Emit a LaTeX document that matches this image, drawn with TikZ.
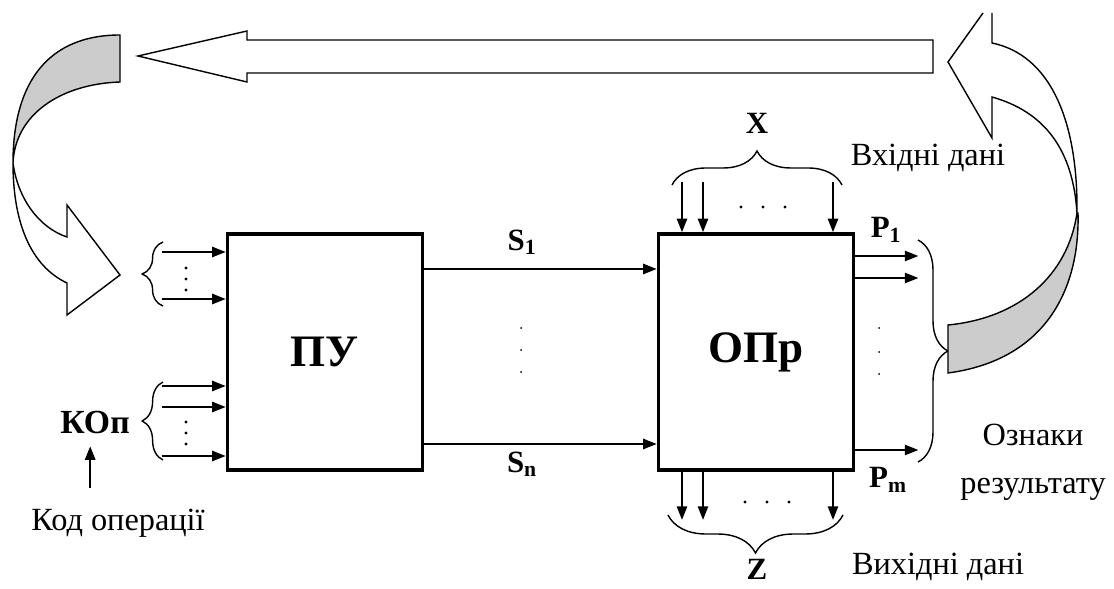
\documentclass[tikz,border=0pt]{standalone}
\usepackage{fontspec}
\setmainfont{Liberation Serif}
\usetikzlibrary{arrows.meta, positioning, calc, decorations.pathreplacing}

\begin{document}
\begin{tikzpicture}[x=0.025cm, y=-0.025cm,
    blk/.style={draw, line width=2.6pt, minimum width=4.875cm, minimum height=5.9cm, font=\fontsize{32}{38}\selectfont\bfseries},
    sig/.style={-{Triangle[length=0.34cm, width=0.26cm]}, line width=1.2pt},
    brc/.style={decorate, decoration={brace, amplitude=#1}, line width=1pt},
    lbl/.style={font=\fontsize{22}{26}\selectfont\bfseries},
    txt/.style={font=\fontsize{23}{34}\selectfont, align=center},
    twist/.style={line width=1pt, line join=miter}]
    \useasboundingbox (0,0) rectangle (1114,589);

    % Blocks
    \node[blk] (pu) at (325,352) {ПУ};
    \node[blk] (opr) at (756,352) {ОПр};

    % Control signals
    \foreach \y in {269,444}
        \draw[sig] (pu.east |- 0,\y) -- (opr.west |- 0,\y);
    \node[lbl] (s1) at (522,242) {S\textsubscript{1}};
    \node[lbl] (sn) at (522,464) {S\textsubscript{n}};
    \foreach \y in {328,350,372} \fill (521,\y) circle (1);

    % Inputs of control unit
    \foreach \y in {252,299,386,407,456}
        \draw[sig] ($(pu.west |- 0,\y)+(-64,0)$) -- (pu.west |- 0,\y);
    \foreach \y in {268,279,290,422,433,444} \fill (186,\y) circle (1.7);
    \draw[brc=0.52cm] (163,306) -- (163,242);
    \draw[brc=0.52cm] (163,460) -- (163,382);
    \node[lbl, font=\fontsize{24}{28}\selectfont\bfseries] (kop) at (95,422) {КОп};
    \node[txt] (kod) at (118,523) {Код операції};
    \draw[sig, shorten <=0.4cm, shorten >=0.2cm] ([xshift=-0.12cm]kop.south |- kod.north) -- ([xshift=-0.12cm]kop.south);

    % Data in
    \foreach \x in {682,703,833}
        \draw[sig] ($(opr.north -| \x,0)+(0,-50)$) -- (opr.north -| \x,0);
    \foreach \x in {741,763,785} \fill (\x,207) circle (1.7);
    \draw[brc=0.85cm] (672,185) -- (842,185);
    \node[lbl] (x) at (757,123) {X};
    \node[txt] (vhid) at (928,158) {Вхідні дані};

    % Data out
    \foreach \x in {682,703,833}
        \draw[sig] (opr.south -| \x,0) -- ++(0,48);
    \foreach \x in {745,767,789} \fill (\x,502) circle (1.7);
    \draw[brc=0.95cm] (843,515) -- (668,515);
    \node[lbl, inner sep=1pt] (z) at (757,569) {Z};
    \node[txt] (vyh) at (938,567) {Вихідні дані};

    % Result flags
    \foreach \y in {256,278,450}
        \draw[sig] (opr.east |- 0,\y) -- ++(63,0);
    \foreach \y in {328,352,374} \fill (879,\y) circle (1);
    \draw[brc=0.75cm] (918,240) -- (918,462);
    \node[lbl] (p1) at (886,230) {P\textsubscript{1}};
    \node[lbl] (pm) at (888,480) {P\textsubscript{m}};
    \node[txt] (ozn) at (1033,462) {Ознаки\\результату};

    % Feedback arrows
    \draw[twist] (247,40) -- (933,40) -- (933,73) -- (247,73) -- (247,82) -- (138,56) -- (247,31) -- cycle;
    \filldraw[twist, fill=black!20] (120,35) .. controls (50,35) and (13,80) .. (13,163)
        .. controls (15,115) and (60,84) .. (120,82) -- cycle;
    \filldraw[twist, fill=white] (13,163) .. controls (13,230) and (35,268) .. (67,283)
        -- (67,315) -- (120,275) -- (67,205) -- (67,237) .. controls (40,228) and (18,200) .. (13,163) -- cycle;
    \filldraw[twist, fill=white] (983,13) -- (948,62) -- (992,138) -- (992,97)
        .. controls (1045,112) and (1073,150) .. (1077,213)
        .. controls (1078,120) and (1050,55) .. (992,43) -- (992,13);
    \filldraw[twist, fill=black!20] (1078,213) .. controls (1080,290) and (1045,360) .. (948,373)
        -- (948,325) .. controls (1020,318) and (1068,275) .. (1077,213) -- cycle;
\end{tikzpicture}
\end{document}
